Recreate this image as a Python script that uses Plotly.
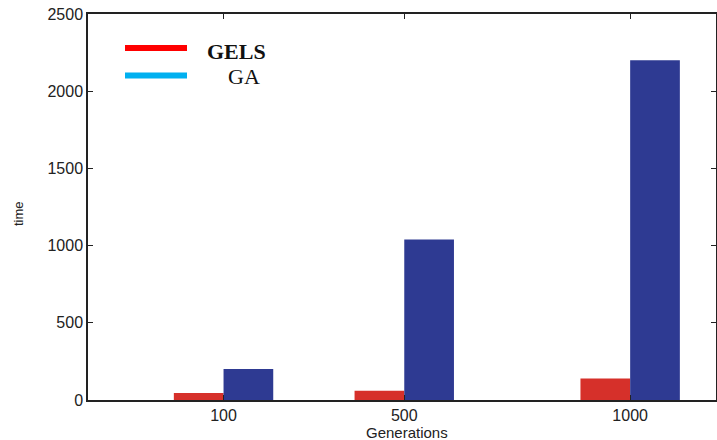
import plotly.graph_objects as go

generations = [100, 500, 1000]
gels_time = [45, 60, 140]
ga_time = [200, 1040, 2200]
series_names = ["GELS", "GA"]
y_ticks = [0, 500, 1000, 1500, 2000, 2500]

fig = go.Figure()
fig.add_trace(go.Bar(x=generations, y=gels_time, name=series_names[0],
                     marker=dict(color="#d6302a", line=dict(width=0)), showlegend=False))
fig.add_trace(go.Bar(x=generations, y=ga_time, name=series_names[1],
                     marker=dict(color="#2e3a92", line=dict(width=0)), showlegend=False))

W, H = 717, 440
L, R, T, B = 88, 1, 14, 40
pw, ph = W - L - R, H - T - B

def px(x):
    return (x - L) / pw

def py(y):
    return (H - B - y) / ph

# manual legend (as in the reference)
fig.add_shape(type="line", xref="paper", yref="paper", x0=px(125), x1=px(187), y0=py(48), y1=py(48),
              line=dict(color="#ff0000", width=6))
fig.add_shape(type="line", xref="paper", yref="paper", x0=px(125), x1=px(187), y0=py(75.5), y1=py(75.5),
              line=dict(color="#00b0f0", width=6))
fig.add_annotation(xref="paper", yref="paper", x=px(205), y=py(51.5), xanchor="left", yanchor="middle",
                   text="<b>" + series_names[0] + "</b>", showarrow=False,
                   font=dict(family="Liberation Serif", size=22, color="#111"))
fig.add_annotation(xref="paper", yref="paper", x=px(226), y=py(76), xanchor="left", yanchor="middle",
                   text=series_names[1], showarrow=False,
                   font=dict(family="Liberation Serif", size=22, color="#111"))

# axis titles
fig.add_annotation(xref="paper", yref="paper", x=px(407), y=py(432), xanchor="center", yanchor="middle",
                   text="Generations", showarrow=False, font=dict(size=15, color="#222"))
fig.add_annotation(xref="paper", yref="paper", x=px(18), y=py(214), xanchor="center", yanchor="middle",
                   text="time", textangle=-90, showarrow=False, font=dict(size=13, color="#222"))

fig.update_layout(
    width=W, height=H,
    margin=dict(l=L, r=R, t=T, b=B, pad=0),
    paper_bgcolor="white", plot_bgcolor="white",
    barmode="group", bargap=0.45, bargroupgap=0,
    font=dict(family="Liberation Sans", size=16, color="#222"),
    xaxis=dict(range=[-200, 1190], tickvals=generations, ticktext=[str(g) for g in generations],
               showgrid=False, zeroline=False, showline=True, linecolor="#222", linewidth=1.5,
               mirror="ticks", ticks="inside", ticklen=5, tickcolor="#222", automargin=False),
    yaxis=dict(range=[0, 2500], tickvals=y_ticks, showgrid=False, zeroline=False,
               showline=True, linecolor="#222", linewidth=1.5, mirror="ticks",
               ticks="inside", ticklen=5, tickcolor="#222", automargin=False),
)

fig.write_html("out.html", config={"displayModeBar": False},
               post_script="document.body.style.margin='0';document.body.style.overflow='hidden';")
